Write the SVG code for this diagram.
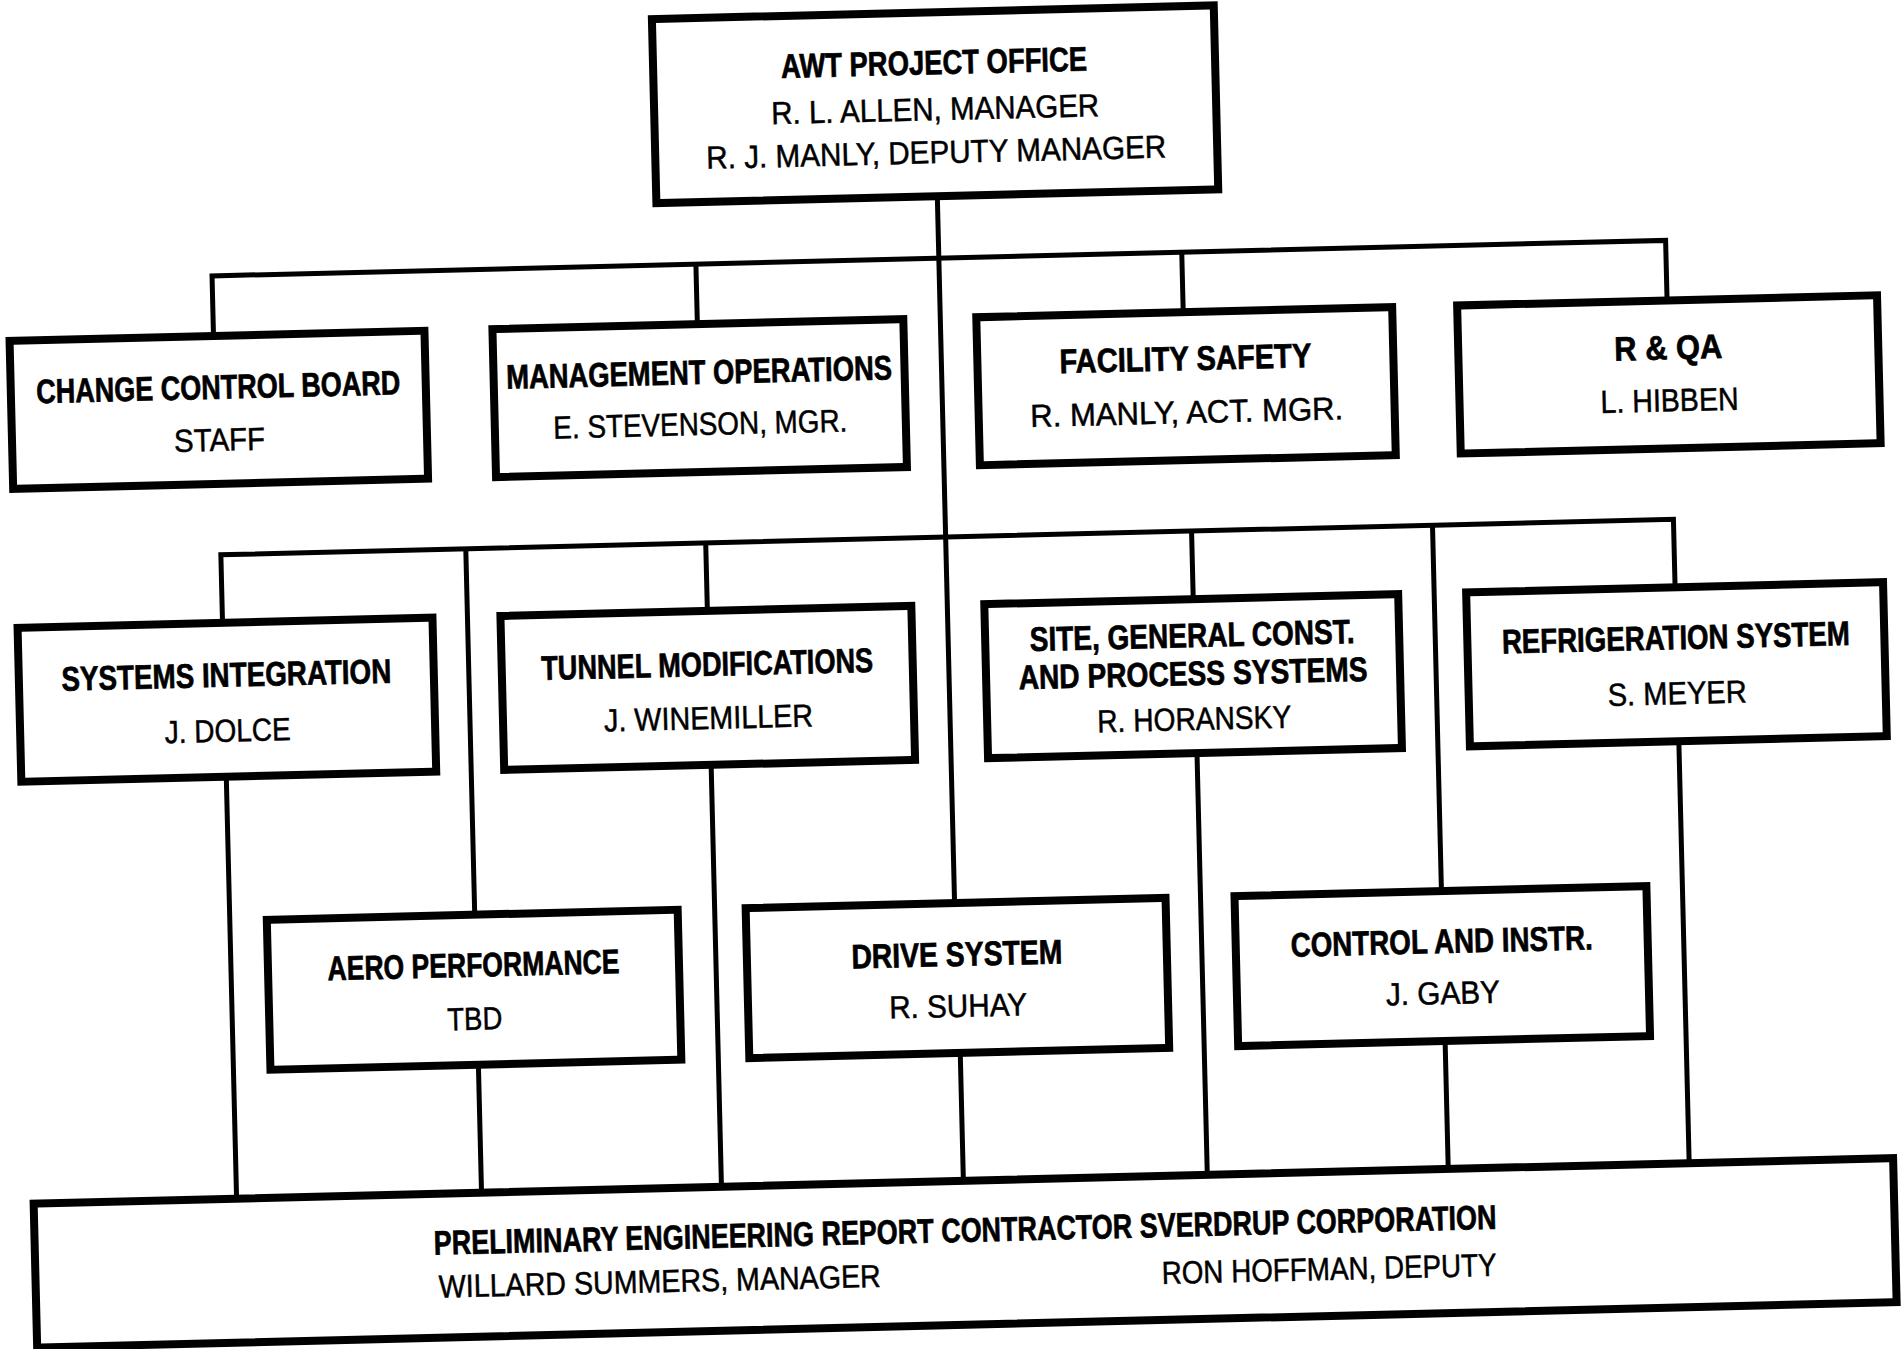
<svg xmlns="http://www.w3.org/2000/svg" width="1902" height="1349" viewBox="0 0 1902 1349">
<style>
.box{fill:#fff;stroke:#000;stroke-width:8}
.conn{fill:none;stroke:#000;stroke-width:5}
.t{font-family:"Liberation Sans Narrow","Liberation Sans",Arial,sans-serif;font-weight:bold;font-size:34px;text-anchor:middle;fill:#000;stroke:#000;stroke-width:0.7}
.n{font-family:"Liberation Sans Narrow","Liberation Sans",Arial,sans-serif;font-weight:normal;font-size:32px;text-anchor:middle;fill:#000;stroke:#000;stroke-width:0.5}
</style>
<rect width="1902" height="1349" fill="#fff"/>
<g transform="rotate(-1.4 951 674.5)">
<g id="connectors">
<path class="conn" d="M949 195 V903"/>
<path class="conn" d="M222 318 V258 H1676 V318"/>
<path class="conn" d="M706 258 V318 M1192 258 V318"/>
<path class="conn" d="M224 605 V537 H1677 V605"/>
<path class="conn" d="M709 537 V605 M1195 537 V605 M469 537 V903 M1436 537 V903"/>
<path class="conn" d="M224 759 V1181 M709 759 V1181 M1195 759 V1181 M1677 759 V1181"/>
<path class="conn" d="M469 1053 V1181 M951 1053 V1181 M1436 1053 V1181"/>
</g>
<g id="awt">
<rect class="box" x="668" y="12" width="562" height="184"/>
<text class="t" x="949" y="74" textLength="306" lengthAdjust="spacingAndGlyphs">AWT PROJECT OFFICE</text>
<text class="n" x="949" y="120" textLength="328" lengthAdjust="spacingAndGlyphs">R. L. ALLEN, MANAGER</text>
<text class="n" x="949" y="163" textLength="460" lengthAdjust="spacingAndGlyphs">R. J. MANLY, DEPUTY MANAGER</text>
</g>
<g id="ccb">
<rect class="box" x="18" y="318" width="415" height="148"/>
<text class="t" x="225.5" y="381" textLength="364" lengthAdjust="spacingAndGlyphs">CHANGE CONTROL BOARD</text>
<text class="n" x="225.5" y="433" textLength="91" lengthAdjust="spacingAndGlyphs">STAFF</text>
</g>
<g id="mgmt">
<rect class="box" x="501" y="318" width="411" height="148"/>
<text class="t" x="706.5" y="378" textLength="386" lengthAdjust="spacingAndGlyphs">MANAGEMENT OPERATIONS</text>
<text class="n" x="706.5" y="429" textLength="294" lengthAdjust="spacingAndGlyphs">E. STEVENSON, MGR.</text>
</g>
<g id="safety">
<rect class="box" x="985" y="318" width="416" height="148"/>
<text class="t" x="1193" y="376" textLength="252" lengthAdjust="spacingAndGlyphs">FACILITY SAFETY</text>
<text class="n" x="1193" y="429" textLength="313" lengthAdjust="spacingAndGlyphs">R. MANLY, ACT. MGR.</text>
</g>
<g id="rqa">
<rect class="box" x="1466" y="318" width="420" height="148"/>
<text class="t" x="1676" y="377" textLength="108" lengthAdjust="spacingAndGlyphs">R &amp; QA</text>
<text class="n" x="1676" y="429" textLength="138" lengthAdjust="spacingAndGlyphs">L. HIBBEN</text>
</g>
<g id="sysint">
<rect class="box" x="19" y="605" width="415" height="154"/>
<text class="t" x="226.5" y="669" textLength="330" lengthAdjust="spacingAndGlyphs">SYSTEMS INTEGRATION</text>
<text class="n" x="226.5" y="724" textLength="126" lengthAdjust="spacingAndGlyphs">J. DOLCE</text>
</g>
<g id="tunnel">
<rect class="box" x="502" y="605" width="411" height="154"/>
<text class="t" x="707.5" y="670" textLength="332" lengthAdjust="spacingAndGlyphs">TUNNEL MODIFICATIONS</text>
<text class="n" x="707.5" y="723" textLength="209" lengthAdjust="spacingAndGlyphs">J. WINEMILLER</text>
</g>
<g id="site">
<rect class="box" x="986" y="605" width="414" height="154"/>
<text class="t" x="1193" y="653" textLength="325" lengthAdjust="spacingAndGlyphs">SITE, GENERAL CONST.</text>
<text class="t" x="1193" y="691" textLength="349" lengthAdjust="spacingAndGlyphs">AND PROCESS SYSTEMS</text>
<text class="n" x="1193" y="736" textLength="194" lengthAdjust="spacingAndGlyphs">R. HORANSKY</text>
</g>
<g id="refrig">
<rect class="box" x="1468" y="605" width="417" height="154"/>
<text class="t" x="1676.5" y="667" textLength="348" lengthAdjust="spacingAndGlyphs">REFRIGERATION SYSTEM</text>
<text class="n" x="1676.5" y="722" textLength="139" lengthAdjust="spacingAndGlyphs">S. MEYER</text>
</g>
<g id="aero">
<rect class="box" x="261" y="903" width="411" height="150"/>
<text class="t" x="466.5" y="965" textLength="292" lengthAdjust="spacingAndGlyphs">AERO PERFORMANCE</text>
<text class="n" x="466.5" y="1018" textLength="55" lengthAdjust="spacingAndGlyphs">TBD</text>
</g>
<g id="drive">
<rect class="box" x="740" y="903" width="420" height="150"/>
<text class="t" x="950" y="966" textLength="211" lengthAdjust="spacingAndGlyphs">DRIVE SYSTEM</text>
<text class="n" x="950" y="1017" textLength="138" lengthAdjust="spacingAndGlyphs">R. SUHAY</text>
</g>
<g id="control">
<rect class="box" x="1229" y="903" width="412" height="150"/>
<text class="t" x="1435" y="965" textLength="302" lengthAdjust="spacingAndGlyphs">CONTROL AND INSTR.</text>
<text class="n" x="1435" y="1016" textLength="114" lengthAdjust="spacingAndGlyphs">J. GABY</text>
</g>
<g id="contractor">
<rect class="box" x="21" y="1181" width="1860" height="144"/>
<text class="t" x="951.5" y="1242" textLength="1063" lengthAdjust="spacingAndGlyphs">PRELIMINARY ENGINEERING REPORT CONTRACTOR SVERDRUP CORPORATION</text>
<text class="n" x="424" y="1285" style="text-anchor:start" textLength="442" lengthAdjust="spacingAndGlyphs">WILLARD SUMMERS, MANAGER</text>
<text class="n" x="1482" y="1289" style="text-anchor:end" textLength="335" lengthAdjust="spacingAndGlyphs">RON HOFFMAN, DEPUTY</text>
</g>
</g>
</svg>
